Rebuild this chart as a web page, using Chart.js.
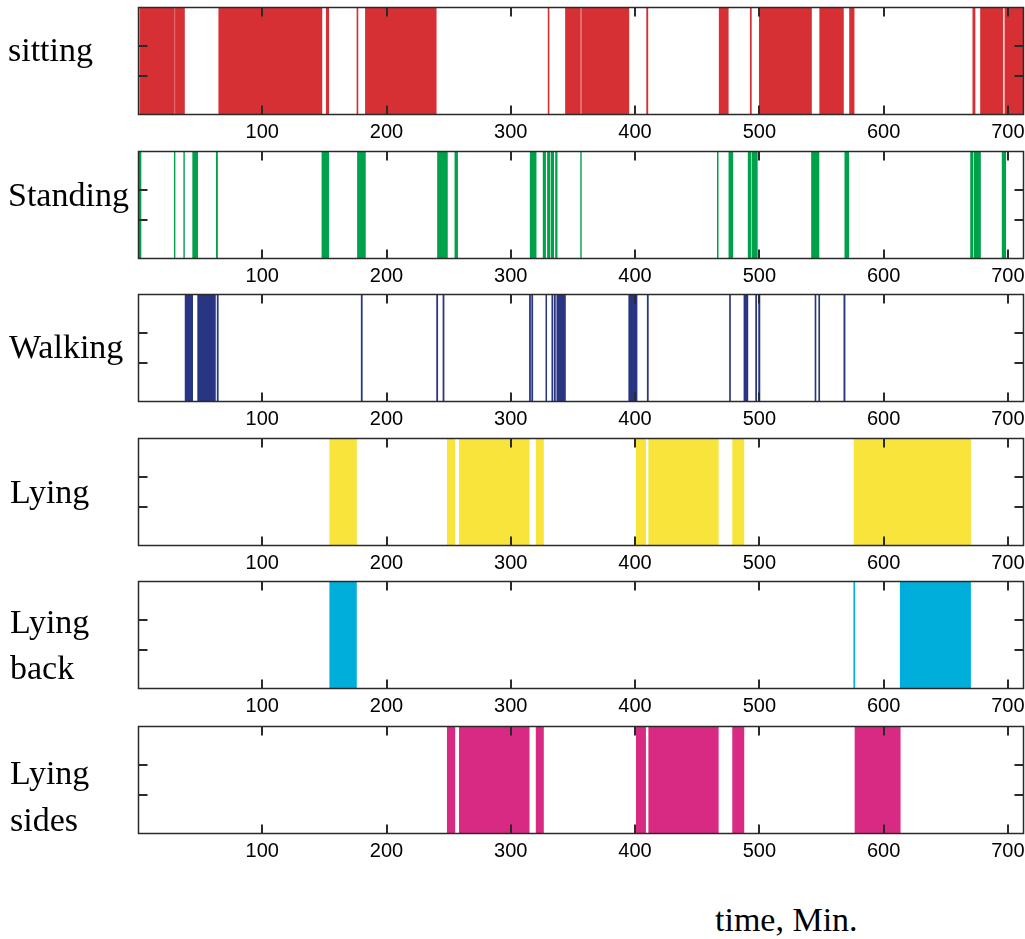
<!DOCTYPE html>
<html>
<head>
<meta charset="utf-8">
<script src="https://cdn.jsdelivr.net/npm/chart.js@4.4.1/dist/chart.umd.min.js"></script>
<style>
  html, body { margin: 0; padding: 0; background: #fff; }
  body { width: 1025px; height: 939px; position: relative; overflow: hidden; }
  .panel { position: absolute; left: 0; width: 1025px; }
  .label {
    position: absolute;
    font-family: "Liberation Serif", "Times New Roman", serif;
    font-size: 34px;
    line-height: 34px;
    color: #000;
    white-space: nowrap;
  }
</style>
</head>
<body>
<script>
// Activity episodes over the recording, as [start, end] in minutes
const sittingEpisodes = [[0, 0.8], [1.6, 29.3], [30.1, 37.4], [65, 148], [151.5, 153.5], [176.2, 177], [183, 240],
  [330, 330.8], [344, 356], [357, 395], [409.3, 410.3], [467.7, 475], [492.7, 493.6], [500, 542],
  [548.6, 567.7], [572.6, 576.3], [671.8, 673.6], [678, 696], [697.6, 713]];
const standingEpisodes = [[0, 2.4], [29.2, 29.8], [36.8, 37.4], [44, 48], [63, 64], [148, 153.5], [176.6, 183],
  [241, 249], [255, 257.2], [315.6, 320.4], [326, 328], [329.5, 331.5], [332.5, 334.5], [336, 337.3],
  [356.2, 356.8], [466.2, 466.9], [475.5, 478.7], [491, 493], [494, 498.4], [542, 548], [568.8, 572],
  [670, 672], [673, 678], [695.4, 698.3]];
const walkingEpisodes = [[37.9, 44], [48, 62.3], [63.7, 64.6], [179.6, 180.5], [240.3, 241.2], [245.4, 246.3],
  [315, 315.9], [316.8, 317.7], [328.2, 328.9], [333, 333.9], [335, 335.9], [337, 344], [394.9, 401.6],
  [409.8, 410.7], [476, 476.8], [487.6, 490.8], [497, 497.9], [499.4, 500.5], [544.8, 545.6],
  [547.8, 548.6], [568, 569]];
const lyingEpisodes = [[154.3, 175.8], [248.9, 255], [258.6, 314.8], [320.4, 326.3], [401, 408.5],
  [411, 467], [478.5, 487.6], [576.3, 670]];
const lyingBackEpisodes = [[154.3, 175.8], [576, 576.8], [613.4, 670]];
const lyingSidesEpisodes = [[248.9, 255], [258.6, 314.8], [320.4, 326.3], [401, 408.5], [411, 467],
  [478.5, 487.6], [577, 613.4]];

const activityNames = ['sitting', 'Standing', 'Walking', 'Lying', 'Lying back', 'Lying sides'];
const activityEpisodes = [sittingEpisodes, standingEpisodes, walkingEpisodes, lyingEpisodes,
  lyingBackEpisodes, lyingSidesEpisodes];
const activityColors = ['#D63034', '#00A14B', '#283583', '#F8E43B', '#00AEDB', '#D82A82'];

// Axis settings
const timeMin = 0;
const timeMax = 713;
const timeTicks = [100, 200, 300, 400, 500, 600, 700];
const levelMin = 0;
const levelMax = 3;
const levelTicks = [1, 2];
const xAxisTitle = 'time, Min.';

// Page layout
const panelTops = [7, 151, 294, 438, 581, 726];
const plotHeight = 108;
const padTop = 4;
const axisHeight = 32;
const canvasHeight = padTop + plotHeight + axisHeight + 2;
const nameBoxes = [
  { lines: ['sitting'], left: 8, centers: [50] },
  { lines: ['Standing'], left: 8, centers: [195] },
  { lines: ['Walking'], left: 9, centers: [347] },
  { lines: ['Lying'], left: 10, centers: [492] },
  { lines: ['Lying', 'back'], left: 10, centers: [622, 668] },
  { lines: ['Lying', 'sides'], left: 10, centers: [773, 820] }
];

const AXIS_COLOR = '#2a2a2a';
const TICK_LEN = 9;

// Frame and inward-pointing tick marks, drawn over the bars
const frameTicks = {
  id: 'frameTicks',
  afterDatasetsDraw(chart) {
    const { ctx, chartArea: a } = chart;
    const xs = chart.scales.x;
    const ys = chart.scales.yLevel;
    ctx.save();
    ctx.strokeStyle = AXIS_COLOR;
    ctx.lineWidth = 1.5;
    const L = Math.round(a.left) + 0.5, R = Math.round(a.right) - 0.5;
    const T = Math.round(a.top) + 0.5, B = Math.round(a.bottom) - 0.5;
    ctx.beginPath();
    ctx.rect(L, T, R - L, B - T);
    ctx.stroke();
    ctx.lineWidth = 2;
    ctx.beginPath();
    timeTicks.forEach(v => {
      const px = Math.round(xs.getPixelForValue(v));
      ctx.moveTo(px, T); ctx.lineTo(px, T + TICK_LEN);
      ctx.moveTo(px, B); ctx.lineTo(px, B - TICK_LEN);
    });
    levelTicks.forEach(v => {
      const py = Math.round(ys.getPixelForValue(v));
      ctx.moveTo(L, py); ctx.lineTo(L + TICK_LEN, py);
      ctx.moveTo(R, py); ctx.lineTo(R - TICK_LEN, py);
    });
    ctx.stroke();
    ctx.restore();
  }
};

function buildPanel(i) {
  const wrap = document.createElement('div');
  wrap.className = 'panel';
  wrap.style.top = (panelTops[i] - padTop) + 'px';
  wrap.style.height = canvasHeight + 'px';
  const canvas = document.createElement('canvas');
  canvas.width = 1025;
  canvas.height = canvasHeight;
  wrap.appendChild(canvas);
  document.body.appendChild(wrap);

  new Chart(canvas, {
    type: 'bar',
    data: {
      labels: [activityNames[i]],
      datasets: activityEpisodes[i].map(ep => ({
        data: [ep],
        backgroundColor: activityColors[i],
        borderWidth: 0,
        grouped: false,
        barPercentage: 1,
        categoryPercentage: 1
      }))
    },
    options: {
      indexAxis: 'y',
      responsive: false,
      animation: false,
      devicePixelRatio: 1,
      layout: { padding: { left: 138, right: 1, top: padTop, bottom: canvasHeight - padTop - plotHeight - axisHeight } },
      plugins: { legend: { display: false }, tooltip: { enabled: false } },
      scales: {
        x: {
          type: 'linear', position: 'bottom', min: timeMin, max: timeMax,
          afterBuildTicks: s => { s.ticks = timeTicks.map(v => ({ value: v })); },
          afterFit: s => { s.height = axisHeight; s.paddingLeft = 0; s.paddingRight = 0; },
          ticks: { color: '#000', padding: 5, maxRotation: 0, autoSkip: false,
            font: { family: '"Liberation Sans", Arial, sans-serif', size: 20 } },
          grid: { display: false, drawTicks: false }, border: { display: false }
        },
        y: { type: 'category', display: false },
        yLevel: {
          type: 'linear', position: 'left', min: levelMin, max: levelMax,
          afterFit: s => { s.width = 0; },
          ticks: { display: false },
          grid: { display: false, drawTicks: false }, border: { display: false }
        }
      }
    },
    plugins: [frameTicks]
  });
}

for (let i = 0; i < activityNames.length; i++) buildPanel(i);

// Row names on the left
nameBoxes.forEach(box => {
  box.lines.forEach((txt, k) => {
    const d = document.createElement('div');
    d.className = 'label';
    d.textContent = txt;
    d.style.left = box.left + 'px';
    d.style.top = (box.centers[k] - 17) + 'px';
    document.body.appendChild(d);
  });
});

// Shared time axis caption
const cap = document.createElement('div');
cap.className = 'label';
cap.textContent = xAxisTitle;
cap.style.left = '715px';
cap.style.top = (920 - 17) + 'px';
document.body.appendChild(cap);
</script>
</body>
</html>
